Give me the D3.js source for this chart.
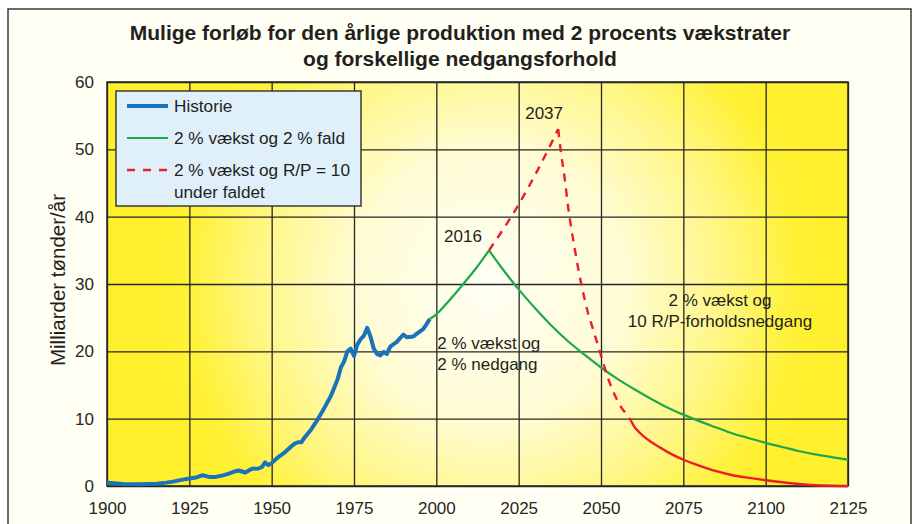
<!DOCTYPE html>
<html>
<head>
<meta charset="utf-8">
<script src="https://cdn.jsdelivr.net/npm/d3@7"></script>
<style>
  body { margin: 0; background: #fff; }
  svg { display: block; font-family: "Liberation Sans", Arial, sans-serif; }
</style>
</head>
<body>
<svg id="chart" width="914" height="524"></svg>
<script>
// --- data (year, milliarder tønder/år) ---
historyYears = [1900,1905,1910,1915,1918,1920,1923,1925,1927,1929,1931,1933,1935,1937,1939,1940,1942,1944,1946,1947,1948,1949,1950,1952,1954,1956,1957,1958,1959,1960,1962,1964,1966,1968,1970,1971,1972,1973,1974,1975,1976,1977,1978,1979,1980,1981,1982,1983,1984,1985,1986,1988,1990,1991,1993,1994,1996,1997,1998];
historyValues = [0.5,0.3,0.25,0.35,0.5,0.65,0.95,1.1,1.25,1.6,1.35,1.35,1.55,1.85,2.2,2.3,2.0,2.55,2.6,2.8,3.5,3.1,3.4,4.3,5.0,5.9,6.3,6.5,6.5,7.2,8.4,9.9,11.6,13.4,15.8,17.6,18.5,20.0,20.4,19.3,21.0,21.8,22.3,23.5,22.2,20.4,19.6,19.4,19.9,19.6,20.7,21.4,22.5,22.1,22.2,22.6,23.3,24.0,24.8];

greenRiseYears = [1998,2000,2004,2008,2012,2016];
greenRiseValues = [24.8,25.5,27.6,29.9,32.3,35.0];
greenFallYears = [2016,2020,2025,2030,2035,2040,2045,2050,2055,2060,2065,2070,2075,2080,2085,2090,2095,2100,2105,2110,2115,2120,2125];
greenFallValues = [35.0,32.3,29.2,26.4,23.8,21.5,19.5,17.6,15.9,14.4,13.0,11.7,10.6,9.6,8.7,7.8,7.1,6.4,5.8,5.2,4.7,4.3,3.9];

redRiseYears = [2016,2020,2025,2030,2035,2037];
redRiseValues = [35.0,37.9,41.8,46.2,51.0,53.0];
redFallYears = [2037,2038,2039,2040,2041,2042,2043,2044,2045,2046,2047,2048,2049,2050,2052,2054,2056,2058,2059];
redFallValues = [53.0,49.0,45.6,41.5,38.2,35.3,32.5,30.0,27.8,25.8,24.2,22.6,21.0,19.4,16.2,13.7,11.8,10.5,9.8];
redTailYears = [2059,2060,2062,2065,2068,2070,2075,2080,2085,2090,2095,2100,2105,2110,2115,2120,2125];
redTailValues = [9.8,8.9,7.8,6.6,5.7,5.1,3.9,3.0,2.2,1.6,1.2,0.85,0.55,0.3,0.12,0.03,0];

xTicks = [1900,1925,1950,1975,2000,2025,2050,2075,2100,2125];
yTicks = [0,10,20,30,40,50,60];

titleLines = ["Mulige forløb for den årlige produktion med 2 procents vækstrater","og forskellige nedgangsforhold"];
yLabel = "Milliarder tønder/år";
legendLabels = [["Historie"],["2 % vækst og 2 % fald"],["2 % vækst og R/P = 10","under faldet"]];

svg = d3.select("#chart");
plotL = 107; plotR = 848; plotT = 82; plotB = 486;

x = d3.scaleLinear().domain([1900,2125]).range([plotL,plotR]);
y = d3.scaleLinear().domain([0,60]).range([plotB,plotT]);

// outer frame
svg.append("rect")
   .attr("x",8).attr("y",9).attr("width",903).attr("height",540)
   .attr("fill","#fffff3").attr("stroke","#3a3a3a").attr("stroke-width",1.5);

// title
titleLines.forEach(function(t,i){
     svg.append("text")
        .text(t)
        .attr("x",460).attr("y",40+26*i)
        .attr("text-anchor","middle")
        .attr("font-size","21px")
        .attr("font-weight","bold")
        .attr("fill","#231f20");
});

// plot background
defs = svg.append("defs");
grad = defs.append("radialGradient").attr("id","bg")
   .attr("gradientUnits","userSpaceOnUse")
   .attr("cx",490).attr("cy",285).attr("r",340);
[[0,"#fffff4"],[0.4,"#fffcd4"],[0.7,"#fff680"],[0.9,"#fff136"],[1,"#ffef2c"]].forEach(function(s){
     grad.append("stop").attr("offset",s[0]).attr("stop-color",s[1]);
});
svg.append("rect")
   .attr("x",plotL).attr("y",plotT).attr("width",plotR-plotL).attr("height",plotB-plotT)
   .attr("fill","url(#bg)");

// grid + axes
xAxis = svg.append("g")
   .attr("transform","translate(0,"+plotB+")")
   .call(d3.axisBottom(x).tickValues(xTicks).tickFormat(d3.format("d")).tickSize(-(plotB-plotT)).tickPadding(16));
yAxis = svg.append("g")
   .attr("transform","translate("+plotL+",0)")
   .call(d3.axisLeft(y).tickValues(yTicks).tickSize(-(plotR-plotL)).tickPadding(13));
[xAxis,yAxis].forEach(function(a){
     a.select(".domain").remove();
     a.selectAll("line").attr("stroke","#262626").attr("stroke-width",1.3);
     a.selectAll("text").attr("font-size","17px").attr("fill","#262626")
      .attr("font-family","'Liberation Sans', Arial, sans-serif");
});
svg.append("rect")
   .attr("x",plotL).attr("y",plotT).attr("width",plotR-plotL).attr("height",plotB-plotT)
   .attr("fill","none").attr("stroke","#262626").attr("stroke-width",1.5);

// y label
svg.append("text")
   .text(yLabel)
   .attr("transform","translate(65,280) rotate(-90)")
   .attr("text-anchor","middle")
   .attr("font-size","20.5px")
   .attr("fill","#231f20");

// series
function pts(xs,vs){ return xs.map(function(d,i){ return [d,vs[i]]; }); }
smooth = d3.line().x(function(d){return x(d[0]);}).y(function(d){return y(d[1]);}).curve(d3.curveMonotoneX);
straight = d3.line().x(function(d){return x(d[0]);}).y(function(d){return y(d[1]);});

plot = svg.append("g");
plot.append("path").attr("d",smooth(pts(greenRiseYears,greenRiseValues)))
   .attr("fill","none").attr("stroke","#1fa84a").attr("stroke-width",2.2);
plot.append("path").attr("d",smooth(pts(greenFallYears,greenFallValues)))
   .attr("fill","none").attr("stroke","#1fa84a").attr("stroke-width",2.2);
plot.append("path").attr("d",smooth(pts(redRiseYears,redRiseValues)))
   .attr("fill","none").attr("stroke","#ec1c2b").attr("stroke-width",2.4).attr("stroke-dasharray","8,7");
plot.append("path").attr("d",smooth(pts(redFallYears,redFallValues)))
   .attr("fill","none").attr("stroke","#ec1c2b").attr("stroke-width",2.4).attr("stroke-dasharray","8,7");
plot.append("path").attr("d",smooth(pts(redTailYears,redTailValues)))
   .attr("fill","none").attr("stroke","#ec1c2b").attr("stroke-width",2.4);
plot.append("path").attr("d",straight(pts(historyYears,historyValues)))
   .attr("fill","none").attr("stroke","#1a72bb").attr("stroke-width",4)
   .attr("stroke-linejoin","round");

// annotations
notes = [
     {lines:["2016"], xx:x(2016)-45, yy:y(35)-8, anchor:"start"},
     {lines:["2037"], xx:x(2037)-33, yy:y(53)-10, anchor:"start"},
     {lines:["2 % vækst og","2 % nedgang"], xx:x(2000)+1, yy:y(20)-2, anchor:"start"},
     {lines:["2 % vækst og","10 R/P-forholdsnedgang"], xx:720, yy:306, anchor:"middle"}
];
notes.forEach(function(n){
     n.lines.forEach(function(l,i){
          svg.append("text").text(l)
             .attr("x",n.xx).attr("y",n.yy+21*i)
             .attr("text-anchor",n.anchor)
             .attr("font-size","17px").attr("fill","#231f20");
     });
});

// legend
legend = svg.append("g");
legend.append("rect").attr("x",116).attr("y",91).attr("width",245).attr("height",115)
   .attr("fill","#dff0fb").attr("stroke","#3a3a3a").attr("stroke-width",1.5);
legendStyles = [{c:"#1a72bb",w:4,dash:null,yy:106},{c:"#1fa84a",w:2.2,dash:null,yy:138},{c:"#ec1c2b",w:2.4,dash:"8,8",yy:170}];
legendLabels.forEach(function(lab,i){
     s = legendStyles[i];
     legend.append("line").attr("x1",127).attr("x2",168).attr("y1",s.yy).attr("y2",s.yy)
        .attr("stroke",s.c).attr("stroke-width",s.w).attr("stroke-dasharray",s.dash);
     lab.forEach(function(l,j){
          legend.append("text").text(l).attr("x",174).attr("y",s.yy+6+22*j)
             .attr("font-size","17.2px").attr("fill","#231f20");
     });
});
</script>
</body>
</html>
